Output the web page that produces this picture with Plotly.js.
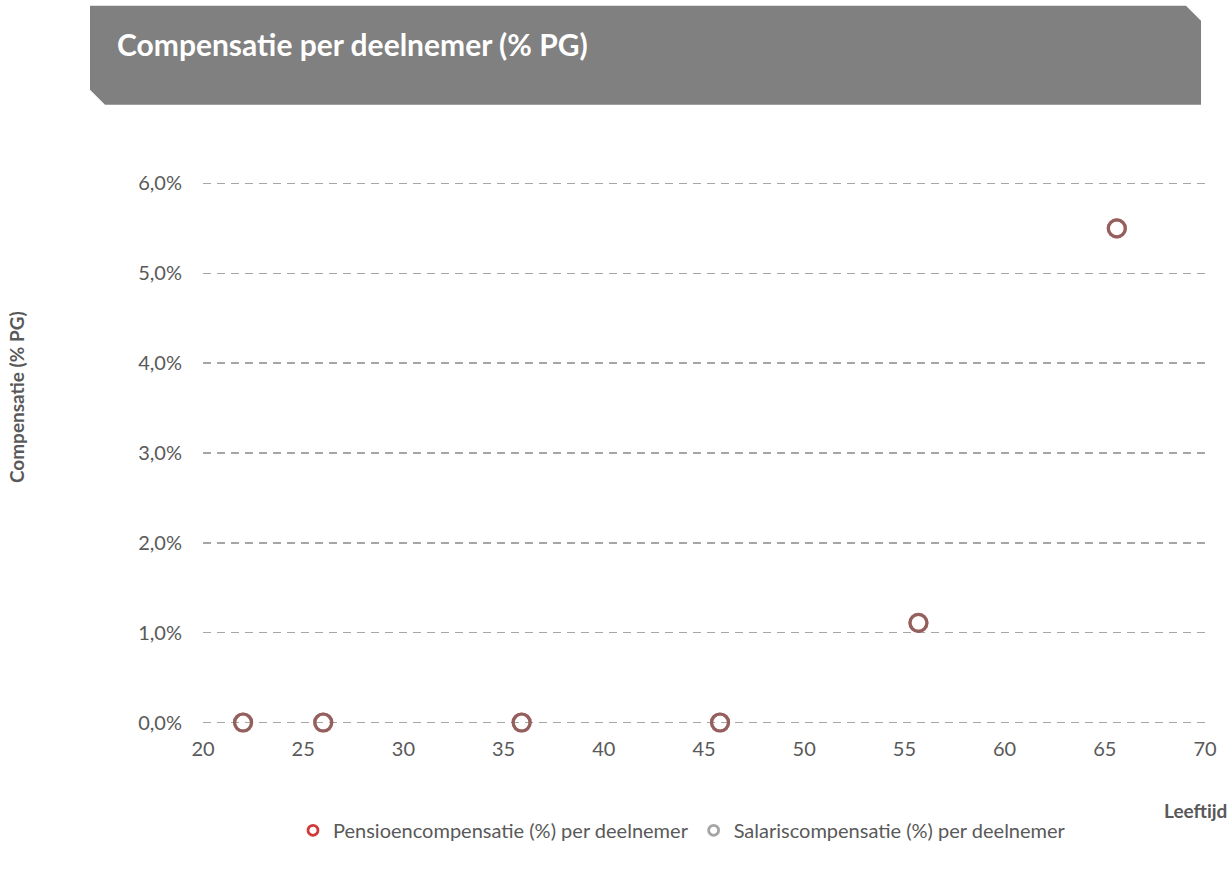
<!DOCTYPE html>
<html>
<head>
<meta charset="utf-8">
<script src="https://cdn.plot.ly/plotly-3.0.1.min.js"></script>
<style>html,body{margin:0;padding:0;background:#fff;}#chart{width:1231px;height:871px;}</style>
</head>
<body>
<div id="chart"></div>
<script>
// Data
const leeftijd = [22, 26, 35.9, 45.8, 55.7, 65.6];
const pensioenCompensatie = [0, 0, 0, 0, 1.11, 5.5];
const salarisCompensatie = [0, 0, 0, 0, 1.11, 5.5];
const seriesNames = ["Pensioencompensatie (%) per deelnemer", "Salariscompensatie (%) per deelnemer"];
const chartTitle = "Compensatie per deelnemer (% PG)";
const xTitle = "Leeftijd";
const yTitle = "Compensatie (% PG)";
const xTicks = [20, 25, 30, 35, 40, 45, 50, 55, 60, 65, 70];
const yTicks = [0, 1, 2, 3, 4, 5, 6];

const W = 1231, H = 871;
const PAD = 0.05;                 // small y padding so edge gridlines are drawn
const UNIT = 90;                  // px per 1%
const L = 203, R = 1205;
const T = 183 - PAD * UNIT, B = 723 + PAD * UNIT;
const px = p => (p - L) / (R - L);
const py = p => (B - p) / (B - T);
const FONT = "Lato, 'Open Sans', sans-serif";
const TXT = "#595959";

const bannerPts = [[90,5],[1186,5],[1201,20],[1201,104],[105,104],[90,89]];
const bannerPath = bannerPts.map((p,i)=>(i?'L':'M')+px(p[0]).toFixed(5)+','+py(p[1]).toFixed(5)).join(' ')+' Z';

const traces = [
  {x: leeftijd, y: pensioenCompensatie, type:'scatter', mode:'markers', showlegend:false, cliponaxis:false,
   marker:{symbol:'circle-open', size:17, color:'#C0504D', line:{width:3.2, color:'#C0504D'}}},
  {x: leeftijd, y: salarisCompensatie, type:'scatter', mode:'markers', showlegend:false, cliponaxis:false,
   marker:{symbol:'circle-open', size:17, color:'rgba(110,110,110,0.55)', line:{width:3.2, color:'rgba(110,110,110,0.55)'}}},
  {x:[null], y:[null], type:'scatter', mode:'markers', name:seriesNames[0],
   marker:{symbol:'circle-open', size:10, line:{width:2.8, color:'#D03A3A'}, color:'#D03A3A'}},
  {x:[null], y:[null], type:'scatter', mode:'markers', name:seriesNames[1],
   marker:{symbol:'circle-open', size:10, line:{width:2.8, color:'#A5A5A5'}, color:'#A5A5A5'}}
];

const layout = {
  width: W, height: H,
  margin: {l: L, r: W - R, t: T, b: H - B, pad: 0},
  paper_bgcolor: '#fff', plot_bgcolor: '#fff',
  separators: ',.',
  font: {family: FONT, color: TXT, size: 20},
  title: {text: '<b>' + chartTitle + '</b>', x: 117 / W, xanchor: 'left', xref: 'container',
          y: 1 - 45 / H, yanchor: 'middle', yref: 'container',
          font: {family: FONT, size: 30, color: '#ffffff'}},
  xaxis: {range: [20, 70], tickvals: xTicks, ticktext: xTicks.map(String), showgrid: false, zeroline: false,
          showline: false, ticks: 'outside', ticklen: 4, tickcolor: 'rgba(0,0,0,0)',
          tickfont: {size: 20, color: TXT}, fixedrange: true},
  yaxis: {range: [-PAD, 6 + PAD], tickvals: yTicks, ticktext: yTicks.map(v => v.toFixed(1).replace('.', ',') + '%'),
          showgrid: true, gridcolor: '#A6A6A6', gridwidth: 1.6, griddash: '8px,6px', zeroline: false,
          showline: false, ticks: 'outside', ticklen: 16, tickcolor: 'rgba(0,0,0,0)',
          tickfont: {size: 20, color: TXT}, fixedrange: true},
  shapes: [{type: 'path', xref: 'paper', yref: 'paper', path: bannerPath, fillcolor: '#808080',
            line: {width: 0}, layer: 'below'}],
  annotations: [
    {text: '<b>' + yTitle + '</b>', xref: 'paper', yref: 'paper', x: px(16), y: py(397), textangle: -90,
     showarrow: false, xanchor: 'center', yanchor: 'middle', font: {size: 19, color: TXT, family: FONT}},
    {text: '<b>' + xTitle + '</b>', xref: 'paper', yref: 'paper', x: px(1229), y: py(811),
     showarrow: false, xanchor: 'right', yanchor: 'middle', font: {size: 19, color: TXT, family: FONT}}
  ],
  legend: {orientation: 'h', x: px(682), xanchor: 'center', y: py(831), yanchor: 'middle',
           font: {size: 20, color: TXT, family: FONT}, itemwidth: 30, tracegroupgap: 0,
           bgcolor: 'rgba(0,0,0,0)'},
  showlegend: true
};

Plotly.newPlot('chart', traces, layout, {displayModeBar: false, staticPlot: true});
</script>
</body>
</html>
